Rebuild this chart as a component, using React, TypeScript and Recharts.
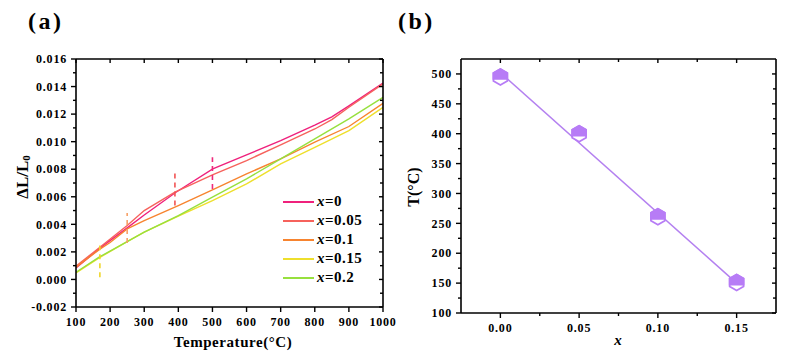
import React from 'react';
import { LineChart, Line, XAxis, YAxis, ReferenceLine, Legend, ComposedChart, Scatter } from 'recharts';

const FONT = '"Liberation Serif", "Times New Roman", serif';

// ---------- Panel (a) data ----------
const seriesNames = ['x=0', 'x=0.05', 'x=0.1', 'x=0.15', 'x=0.2'];
const seriesColors = ['#ef217c', '#f6625c', '#f7842f', '#eedf2c', '#97e03e'];

const tempX0 = [100, 170, 250, 300, 393, 501, 600, 700, 800, 850, 900, 1000];
const dlX0 = [0.00084, 0.00227, 0.00374, 0.00468, 0.00633, 0.00802, 0.00904, 0.01008, 0.0112, 0.0118, 0.0126, 0.01426];

const tempX005 = [100, 170, 250, 300, 390, 500, 600, 700, 800, 850, 900, 1000];
const dlX005 = [0.00096, 0.00234, 0.00391, 0.005, 0.00633, 0.00759, 0.00863, 0.00976, 0.01092, 0.0116, 0.0125, 0.01419];

const tempX01 = [100, 170, 200, 250, 300, 400, 500, 600, 700, 800, 900, 1000];
const dlX01 = [0.00089, 0.0022, 0.00268, 0.00367, 0.00427, 0.00536, 0.0065, 0.00766, 0.00875, 0.00996, 0.0111, 0.01278];

const tempX015 = [100, 170, 250, 300, 400, 500, 600, 700, 800, 900, 1000];
const dlX015 = [0.00048, 0.0016, 0.00275, 0.00343, 0.00459, 0.00572, 0.00693, 0.00838, 0.00959, 0.0108, 0.01249];

const tempX02 = [100, 170, 250, 300, 400, 500, 600, 700, 800, 900, 1000];
const dlX02 = [0.00052, 0.00165, 0.00275, 0.00343, 0.00464, 0.00597, 0.0073, 0.00875, 0.0102, 0.01165, 0.01322];

const seriesTemps = [tempX0, tempX005, tempX01, tempX015, tempX02];
const seriesValues = [dlX0, dlX005, dlX01, dlX015, dlX02];

// dashed onset marks
const markT = [170, 250, 390, 500];
const markLow = [0.00016, 0.00265, 0.00536, 0.00657];
const markHigh = [0.00246, 0.00483, 0.00773, 0.00887];
const markColors = ['#efd62a', '#f7a066', '#f25454', '#ee2a7c'];

const aXTicks = [100, 200, 300, 400, 500, 600, 700, 800, 900, 1000];
const aYMajor = [-0.002, 0, 0.002, 0.004, 0.006, 0.008, 0.01, 0.012, 0.014, 0.016];
const aYMinor = [-0.001, 0.001, 0.003, 0.005, 0.007, 0.009, 0.011, 0.013, 0.015];

// ---------- Panel (b) data ----------
const bX = [0, 0.05, 0.1, 0.15];
const bT = [495, 400, 261, 151];
const fitX = [0, 0.15];
const fitT = [502, 150];

const bXMajor = [0, 0.05, 0.1, 0.15];
const bXMinor = [0.025, 0.075, 0.125];
const bYMajor = [100, 150, 200, 250, 300, 350, 400, 450, 500];
const bYMinor = [125, 175, 225, 275, 325, 375, 425, 475];

const PURPLE = '#b77cf6';
const PURPLE_LINE = '#b481f0';

const S = 5; // tickSize used for label placement
const M = 4; // tickMargin

type Side = 'left' | 'right' | 'top' | 'bottom';
interface TickOpts {
  side: Side;
  majors: number[];
  fmt?: (v: number) => string;
  inward: boolean;
  majorLen: number;
  minorLen: number;
}

const labelStyle = {
  fontFamily: FONT,
  fontWeight: 'bold' as const,
  fontSize: 12,
  letterSpacing: 0.8,
};

const makeTick = (o: TickOpts) => (props: any) => {
  const { x, y, payload } = props;
  const v = payload.value;
  const isMajor = o.majors.some((m) => Math.abs(m - v) < 1e-9);
  const len = isMajor ? o.majorLen : o.minorLen;
  let l: number[] = [0, 0, 0, 0];
  if (o.side === 'left') {
    const ax = x + M + S;
    l = o.inward ? [ax, y, ax + len, y] : [ax - len, y, ax, y];
  } else if (o.side === 'right') {
    const ax = x - M - S;
    l = o.inward ? [ax - len, y, ax, y] : [ax, y, ax + len, y];
  } else if (o.side === 'top') {
    const ay = y + M + S;
    l = o.inward ? [x, ay, x, ay + len] : [x, ay - len, x, ay];
  } else {
    const ay = y - M - S;
    l = o.inward ? [x, ay - len, x, ay] : [x, ay, x, ay + len];
  }
  let label: React.ReactNode = null;
  if (isMajor && o.fmt) {
    if (o.side === 'left') {
      label = (
        <text x={x} y={y} dy="0.35em" textAnchor="end" fill="#000" style={labelStyle}>
          {o.fmt(v)}
        </text>
      );
    } else if (o.side === 'bottom') {
      label = (
        <text x={x} y={y + 1} dy="0.71em" textAnchor="middle" fill="#000" style={labelStyle}>
          {o.fmt(v)}
        </text>
      );
    }
  }
  return (
    <g>
      <line x1={l[0]} y1={l[1]} x2={l[2]} y2={l[3]} stroke="#000" strokeWidth={1.4} />
      {label}
    </g>
  );
};

const axisLine = { stroke: '#000', strokeWidth: 1.6 };

const renderLegend = (props: any) => {
  const { payload } = props;
  return (
    <div style={{ fontFamily: FONT, fontWeight: 'bold', fontSize: 15, color: '#000' }}>
      {(payload || []).map((e: any) => {
        const parts = String(e.value).split('=');
        return (
          <div key={e.value} style={{ display: 'flex', alignItems: 'center', height: 19 }}>
            <svg width={31} height={4} style={{ display: 'block' }}>
              <line x1={0} y1={2} x2={31} y2={2} stroke={e.color} strokeWidth={2} />
            </svg>
            <span style={{ marginLeft: 3, letterSpacing: 0.5, lineHeight: '19px', whiteSpace: 'nowrap' }}>
              <i>{parts[0]}</i>={parts[1]}
            </span>
          </div>
        );
      })}
    </div>
  );
};

const HexMarker = (props: any) => {
  const { cx, cy } = props;
  if (cx == null || cy == null) return null;
  const r = 8;
  const w = r * 0.866;
  const pts = [
    [0, -r],
    [w, -r / 2],
    [w, r / 2],
    [0, r],
    [-w, r / 2],
    [-w, -r / 2],
  ];
  const full = pts.map(([px, py]) => `${cx + px},${cy + py}`).join(' ');
  const c = 2;
  const top = [
    [-w, c],
    [-w, -r / 2],
    [0, -r],
    [w, -r / 2],
    [w, c],
  ]
    .map(([px, py]) => `${cx + px},${cy + py}`)
    .join(' ');
  return (
    <g>
      <polygon points={full} fill="#fff" stroke={PURPLE} strokeWidth={1.8} strokeLinejoin="miter" />
      <polygon points={top} fill={PURPLE} stroke={PURPLE} strokeWidth={1.8} strokeLinejoin="miter" />
    </g>
  );
};

const ChartA = () => {
  const lineData = seriesTemps.map((ts, si) => ts.map((t, i) => ({ t, v: seriesValues[si][i] })));
  return (
    <LineChart width={400} height={356} margin={{ top: 54, right: 12, bottom: 19, left: 16 }}>
      <XAxis
        xAxisId={0}
        dataKey="t"
        type="number"
        domain={[100, 1000]}
        allowDataOverflow
        ticks={aXTicks}
        interval={0}
        height={30}
        tickSize={S}
        tickMargin={M}
        tickLine={false}
        axisLine={axisLine}
        tick={makeTick({ side: 'bottom', majors: aXTicks, fmt: (v) => String(v), inward: false, majorLen: 5, minorLen: 3 })}
      />
      <XAxis
        xAxisId="top"
        orientation="top"
        dataKey="t"
        type="number"
        domain={[100, 1000]}
        allowDataOverflow
        ticks={aXTicks}
        interval={0}
        height={5}
        tickSize={S}
        tickMargin={M}
        tickLine={false}
        axisLine={axisLine}
        tick={makeTick({ side: 'top', majors: aXTicks, inward: true, majorLen: 4, minorLen: 3 })}
      />
      <YAxis
        yAxisId={0}
        type="number"
        domain={[-0.002, 0.016]}
        allowDataOverflow
        ticks={[...aYMajor, ...aYMinor].sort((a, b) => a - b)}
        interval={0}
        width={60}
        tickSize={S}
        tickMargin={M}
        tickLine={false}
        axisLine={axisLine}
        tick={makeTick({ side: 'left', majors: aYMajor, fmt: (v) => v.toFixed(3), inward: false, majorLen: 5, minorLen: 3 })}
      />
      <YAxis
        yAxisId="right"
        orientation="right"
        type="number"
        domain={[-0.002, 0.016]}
        allowDataOverflow
        ticks={[...aYMajor, ...aYMinor].sort((a, b) => a - b)}
        interval={0}
        width={5}
        tickSize={S}
        tickMargin={M}
        tickLine={false}
        axisLine={axisLine}
        tick={makeTick({ side: 'right', majors: aYMajor, inward: true, majorLen: 4, minorLen: 3 })}
      />
      {lineData.map((d, i) => (
        <Line
          key={seriesNames[i]}
          xAxisId={0}
          yAxisId={0}
          data={d}
          dataKey="v"
          name={seriesNames[i]}
          stroke={seriesColors[i]}
          strokeWidth={1.4}
          dot={false}
          type="linear"
          isAnimationActive={false}
        />
      ))}
      {markT.map((t, i) => (
        <ReferenceLine
          key={'m' + i}
          xAxisId={0}
          yAxisId={0}
          segment={[
            { x: t, y: markLow[i] },
            { x: t, y: markHigh[i] },
          ]}
          stroke={markColors[i]}
          strokeWidth={1.6}
          strokeDasharray="5 4"
          ifOverflow="visible"
        />
      ))}
      <Legend
        layout="vertical"
        align="center"
        verticalAlign="middle"
        content={renderLegend}
        wrapperStyle={{ left: 283, top: 192, width: 110, height: 95 }}
      />
    </LineChart>
  );
};

const ChartB = () => {
  const pts = bX.map((x, i) => ({ x, y: bT[i] }));
  const fit = fitX.map((x, i) => ({ x, y: fitT[i] }));
  return (
    <ComposedChart width={398} height={356} margin={{ top: 54, right: 17, bottom: 13, left: 11 }}>
      <XAxis
        xAxisId={0}
        dataKey="x"
        type="number"
        domain={[-0.025, 0.175]}
        allowDataOverflow
        ticks={[...bXMajor, ...bXMinor].sort((a, b) => a - b)}
        interval={0}
        height={30}
        tickSize={S}
        tickMargin={M}
        tickLine={false}
        axisLine={axisLine}
        tick={makeTick({ side: 'bottom', majors: bXMajor, fmt: (v) => v.toFixed(2), inward: false, majorLen: 5, minorLen: 3 })}
      />
      <XAxis
        xAxisId="top"
        orientation="top"
        dataKey="x"
        type="number"
        domain={[-0.025, 0.175]}
        allowDataOverflow
        ticks={[...bXMajor, ...bXMinor].sort((a, b) => a - b)}
        interval={0}
        height={5}
        tickSize={S}
        tickMargin={M}
        tickLine={false}
        axisLine={axisLine}
        tick={makeTick({ side: 'top', majors: bXMajor, inward: true, majorLen: 4, minorLen: 3 })}
      />
      <YAxis
        yAxisId={0}
        dataKey="y"
        type="number"
        domain={[100, 525]}
        allowDataOverflow
        ticks={[...bYMajor, ...bYMinor].sort((a, b) => a - b)}
        interval={0}
        width={50}
        tickSize={S}
        tickMargin={M}
        tickLine={false}
        axisLine={axisLine}
        tick={makeTick({ side: 'left', majors: bYMajor, fmt: (v) => String(v), inward: false, majorLen: 5, minorLen: 3 })}
      />
      <YAxis
        yAxisId="right"
        orientation="right"
        dataKey="y"
        type="number"
        domain={[100, 525]}
        allowDataOverflow
        ticks={[...bYMajor, ...bYMinor].sort((a, b) => a - b)}
        interval={0}
        width={5}
        tickSize={S}
        tickMargin={M}
        tickLine={false}
        axisLine={axisLine}
        tick={makeTick({ side: 'right', majors: bYMajor, inward: true, majorLen: 4, minorLen: 3 })}
      />
      <Line
        xAxisId={0}
        yAxisId={0}
        data={fit}
        dataKey="y"
        stroke={PURPLE_LINE}
        strokeWidth={1.5}
        dot={false}
        type="linear"
        isAnimationActive={false}
      />
      <Scatter xAxisId={0} yAxisId={0} data={pts} dataKey="y" shape={HexMarker} isAnimationActive={false} />
    </ComposedChart>
  );
};

const titleStyle = { fontFamily: FONT, fontWeight: 'bold' as const, fill: '#000' };

export default function App() {
  return (
    <div style={{ position: 'absolute', left: 0, top: 0, width: 798, height: 356, background: '#fff', overflow: 'hidden' }}>
      <div style={{ position: 'absolute', left: 0, top: 0 }}>
        <ChartA />
      </div>
      <div style={{ position: 'absolute', left: 400, top: 0 }}>
        <ChartB />
      </div>
      <svg width={798} height={356} style={{ position: 'absolute', left: 0, top: 0, pointerEvents: 'none' }}>
        <text x={28} y={29} style={{ ...titleStyle, fontSize: 24, letterSpacing: 2.5 }}>(a)</text>
        <text x={398} y={29} style={{ ...titleStyle, fontSize: 24, letterSpacing: 2.5 }}>(b)</text>
        <text x={233} y={347} textAnchor="middle" style={{ ...titleStyle, fontSize: 15, letterSpacing: 0.55 }}>
          Temperature(°C)
        </text>
        <text
          x={22}
          y={177}
          transform="rotate(-90, 22, 177)"
          textAnchor="middle"
          dominantBaseline="central"
          style={{ ...titleStyle, fontSize: 17 }}
        >
          ΔL/L<tspan dy={4} fontSize={11}>0</tspan>
        </text>
        <text
          x={413}
          y={187}
          transform="rotate(-90, 413, 187)"
          textAnchor="middle"
          dominantBaseline="central"
          style={{ ...titleStyle, fontSize: 16 }}
        >
          T(°C)
        </text>
        <text x={618} y={345} textAnchor="middle" style={{ ...titleStyle, fontSize: 15, fontStyle: 'italic' }}>
          x
        </text>
      </svg>
    </div>
  );
}
